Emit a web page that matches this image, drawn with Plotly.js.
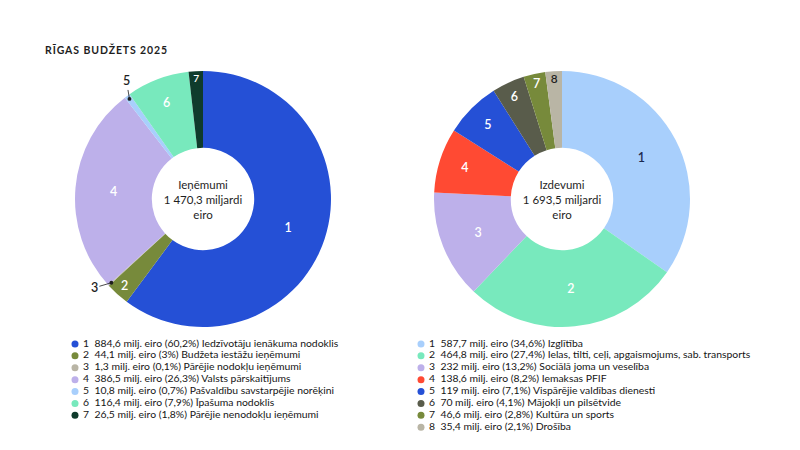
<!DOCTYPE html>
<html>
<head>
<meta charset="utf-8">
<script src="https://cdn.plot.ly/plotly-3.0.1.min.js"></script>
<style>html,body{margin:0;padding:0;background:#fff;}#chart{width:800px;height:450px;}</style>
</head>
<body>
<div id="chart"></div>
<script>
// ---- DATA ----
const chartTitle = 'RĪGAS BUDŽETS 2025';

const incomeNums = ['1', '2', '3', '4', '5', '6', '7'];
const incomeValues = [884.6, 44.1, 1.3, 386.5, 10.8, 116.4, 26.5];
const incomePct = [60.2, 3, 0.1, 26.3, 0.7, 7.9, 1.8];
const incomeNames = [
  'Iedzīvotāju ienākuma nodoklis',
  'Budžeta iestāžu ieņēmumi',
  'Pārējie nodokļu ieņēmumi',
  'Valsts pārskaitījums',
  'Pašvaldību savstarpējie norēķini',
  'Īpašuma nodoklis',
  'Pārējie nenodokļu ieņēmumi'
];
const incomeColors = ['#2550d6', '#778a3b', '#b9b5a5', '#bdb0ea', '#a8cffc', '#78e9bd', '#0f3b2c'];
const incomeCenter = 'Ieņēmumi<br>1 470,3 miljardi<br>eiro';
const incomeOutside = ['3', '5'];

const spendNums = ['1', '2', '3', '4', '5', '6', '7', '8'];
const spendValues = [587.7, 464.8, 232, 138.6, 119, 70, 46.6, 35.4];
const spendPct = [34.6, 27.4, 13.2, 8.2, 7.1, 4.1, 2.8, 2.1];
const spendNames = [
  'Izglītība',
  'Ielas, tilti, ceļi, apgaismojums, sab. transports',
  'Sociālā joma un veselība',
  'Iemaksas PFIF',
  'Vispārējie valdības dienesti',
  'Mājokļi un pilsētvide',
  'Kultūra un sports',
  'Drošība'
];
const spendColors = ['#a8cffc', '#78e9bd', '#bdb0ea', '#ff4a33', '#2550d6', '#595c4b', '#778a3b', '#b9b5a5'];
const spendTextColors = ['#1b2a4e', '#ffffff', '#ffffff', '#ffffff', '#ffffff', '#ffffff', '#ffffff', '#1e1e1e'];
const spendCenter = 'Izdevumi<br>1 693,5 miljardi<br>eiro';

// ---- STYLE / LAYOUT ----
const FONT = 'Lato, "Noto Sans", sans-serif';
const W = 800, H = 450;
const leftDomain = {x: [75 / W, 331 / W], y: [1 - 327 / H, 1 - 71 / H]};
const rightDomain = {x: [434 / W, 690 / W], y: [1 - 327 / H, 1 - 71 / H]};

const fmt = v => String(v).replace('.', ',');
const nb = '\u00a0';
const legendText = (nums, vals, pcts, names) =>
  nums.map((n, i) => `${nb}${n}${nb}${nb}${fmt(vals[i])} milj. eiro (${fmt(pcts[i])}%) ${names[i]}`);

const incomeText = incomeNums.map(n => incomeOutside.includes(n) ? '' : n);

const traces = [];
traces.push({
  type: 'pie', values: incomeValues, labels: incomeNames, text: incomeText,
  textinfo: 'text', textposition: 'inside', insidetextorientation: 'horizontal',
  sort: false, direction: 'clockwise', rotation: 0, hole: 0.4,
  domain: leftDomain, showlegend: false, hoverinfo: 'none',
  marker: {colors: incomeColors, line: {width: 0}},
  textfont: {family: FONT, size: 12.5, color: '#ffffff', weight: 600},
  title: {text: incomeCenter, position: 'middle center', font: {family: FONT, size: 11.5, color: '#1e1e1e'}}
});
traces.push({
  type: 'pie', values: spendValues, labels: spendNames, text: spendNums,
  textinfo: 'text', textposition: 'inside', insidetextorientation: 'horizontal',
  sort: false, direction: 'clockwise', rotation: 0, hole: 0.4,
  domain: rightDomain, showlegend: false, hoverinfo: 'none',
  marker: {colors: spendColors, line: {width: 0}},
  textfont: {family: FONT, size: 12.5, color: spendTextColors, weight: 600},
  title: {text: spendCenter, position: 'middle center', font: {family: FONT, size: 11.5, color: '#1e1e1e'}}
});

// legends drawn as scatter markers on hidden axes
traces.push({
  type: 'scatter', mode: 'markers+text', xaxis: 'x', yaxis: 'y',
  x: incomeNums.map(() => 0), y: incomeNums.map((_, i) => i),
  text: legendText(incomeNums, incomeValues, incomePct, incomeNames),
  textposition: 'middle right', cliponaxis: false, showlegend: false, hoverinfo: 'none',
  marker: {symbol: 'circle', size: 7, color: incomeColors},
  textfont: {family: FONT, size: 10.4, color: '#151515'}
});
traces.push({
  type: 'scatter', mode: 'markers+text', xaxis: 'x2', yaxis: 'y2',
  x: spendNums.map(() => 0), y: spendNums.map((_, i) => i),
  text: legendText(spendNums, spendValues, spendPct, spendNames),
  textposition: 'middle right', cliponaxis: false, showlegend: false, hoverinfo: 'none',
  marker: {symbol: 'circle', size: 7, color: spendColors},
  textfont: {family: FONT, size: 10.4, color: '#151515'}
});

const ROW = 11.9, TOP = 338;
const hiddenAxis = (domain, range) => ({domain, range, visible: false, fixedrange: true, showgrid: false, zeroline: false});

// outside labels with leader lines for tiny slices (positions derived from data)
function edgePoint(values, idx, dom, rFrac) {
  const tot = values.reduce((a, b) => a + b, 0);
  const before = values.slice(0, idx).reduce((a, b) => a + b, 0);
  const frac = (before + values[idx] / 2) / tot;
  const ang = frac * 2 * Math.PI;
  const cx = (dom.x[0] + dom.x[1]) / 2 * W, cy = (1 - (dom.y[0] + dom.y[1]) / 2) * H;
  const r = Math.min((dom.x[1] - dom.x[0]) * W, (dom.y[1] - dom.y[0]) * H) / 2 * rFrac;
  return {x: (cx + r * Math.sin(ang)) / W, y: 1 - (cy - r * Math.cos(ang)) / H, ang};
}
const annotations = incomeOutside.map(n => {
  const idx = incomeNums.indexOf(n);
  const p = edgePoint(incomeValues, idx, leftDomain, 0.97);
  const upper = Math.cos(p.ang) > 0;
  return {
    xref: 'paper', yref: 'paper', x: p.x, y: p.y, text: n,
    showarrow: true, arrowhead: 6, arrowsize: 1.2, arrowwidth: 0.8, arrowcolor: '#1e1e1e', standoff: 0,
    ax: upper ? -3 : -17, ay: upper ? -18 : 5,
    font: {family: FONT, size: 12.5, color: '#1e1e1e', weight: 600}
  };
});

const layout = {
  width: W, height: H,
  margin: {l: 0, r: 0, t: 0, b: 0},
  paper_bgcolor: '#ffffff', plot_bgcolor: 'rgba(0,0,0,0)',
  font: {family: FONT, color: '#1e1e1e'},
  title: {
    text: `<span style="letter-spacing:0.9px">${chartTitle}</span>`,
    x: 45 / W, xanchor: 'left', xref: 'container',
    y: 1 - 50 / H, yanchor: 'middle', yref: 'container',
    font: {family: FONT, size: 10.5, color: '#1e1e1e', weight: 700}
  },
  xaxis: hiddenAxis([75 / W, 0.45], [0, 1]),
  yaxis: hiddenAxis([1 - (TOP + 7 * ROW) / H, 1 - TOP / H], [6.5, -0.5]),
  xaxis2: hiddenAxis([421 / W, 0.99], [0, 1]),
  yaxis2: hiddenAxis([1 - (TOP + 8 * ROW) / H, 1 - TOP / H], [7.5, -0.5]),
  annotations,
  showlegend: false
};

Plotly.newPlot('chart', traces, layout, {displayModeBar: false, staticPlot: true});
</script>
</body>
</html>
